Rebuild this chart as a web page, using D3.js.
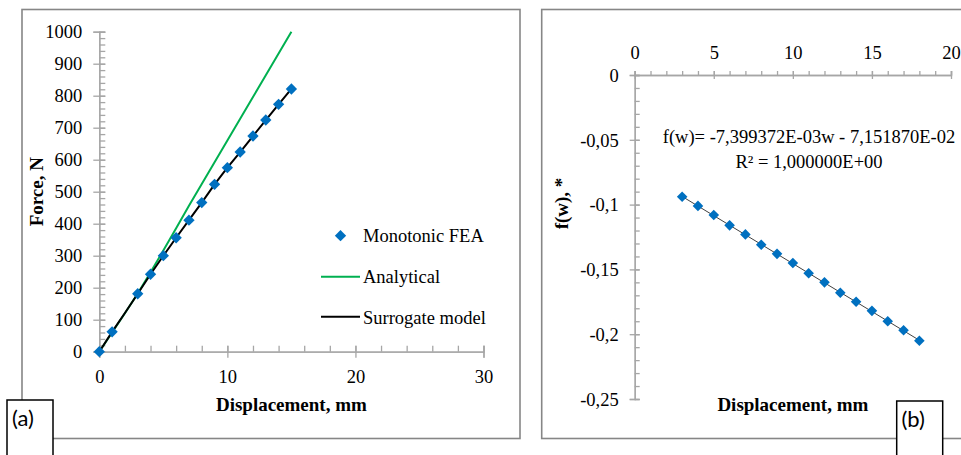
<!DOCTYPE html>
<html>
<head>
<meta charset="utf-8">
<script src="https://cdn.jsdelivr.net/npm/d3@7"></script>
<style>
  body { margin: 0; background: #fff; }
  svg { display: block; }
  .tick text { font-family: "Liberation Serif", "Times New Roman", serif; font-size: 18.5px; fill: #000; }
  .title { font-family: "Liberation Serif", "Times New Roman", serif; font-size: 19px; font-weight: bold; }
  .txt { font-family: "Liberation Serif", "Times New Roman", serif; font-size: 18.5px; }
  .tag { font-family: Lato, "Open Sans", sans-serif; font-size: 22px; }
</style>
</head>
<body>
<script>
// panel (a): force vs displacement
var feaX = [0, 1, 3, 4, 5, 6, 7, 8, 9, 10, 11, 12, 13, 14, 15];
var feaF = [0, 62, 181, 242, 300, 356, 411, 466, 523, 575, 624, 674, 724, 773, 821];
var anaX = [0, 1, 2, 3, 4, 5, 6, 7, 8, 9, 10, 11, 12, 13, 14, 15];
var anaF = [0, 60, 120, 182, 248, 316, 386, 456, 524, 592, 660, 728, 796, 864, 932, 1000];
var surX = [0, 1, 2, 3, 4, 5, 6, 7, 8, 9, 10, 11, 12, 13, 14, 15];
var surF = [0, 62, 121, 181, 242, 300, 356, 411, 466, 523, 575, 624, 674, 724, 773, 821];
var aXTicks = [0, 10, 20, 30];
var aYTicks = [0, 100, 200, 300, 400, 500, 600, 700, 800, 900, 1000];
var legendNames = ["Monotonic FEA", "Analytical", "Surrogate model"];

// panel (b): f(w) vs displacement
var bW = [3, 4, 5, 6, 7, 8, 9, 10, 11, 12, 13, 14, 15, 16, 17, 18];
var bF = [-0.094, -0.101, -0.108, -0.116, -0.123, -0.131, -0.138, -0.145,
          -0.153, -0.160, -0.168, -0.175, -0.182, -0.190, -0.197, -0.205];
var fitSlope = -7.399372e-3, fitIntercept = -7.151870e-2;
var bXTicks = [0, 5, 10, 15, 20];
var bYTicks = [0, -0.05, -0.1, -0.15, -0.2, -0.25];
var fitText = ["f(w)= -7,399372E-03w - 7,151870E-02", "R\u00b2 = 1,000000E+00"];

var blue = "#0070c0", green = "#00b050", axisGrey = "#a6a6a6", frameGrey = "#868686";

var svg = d3.select("body").append("svg")
  .attr("width", 961)
  .attr("height", 455);

// frames
svg.append("rect").attr("x", 22).attr("y", 9.5).attr("width", 498).attr("height", 429)
  .attr("fill", "#fff").attr("stroke", frameGrey).attr("stroke-width", 1.6);
svg.append("rect").attr("x", 541.7).attr("y", 9.5).attr("width", 430).attr("height", 429)
  .attr("fill", "#fff").attr("stroke", frameGrey).attr("stroke-width", 1.6);

function styleAxis(g, cross, minor) {
  g.select(".domain").attr("stroke", axisGrey).attr("stroke-width", 1.3);
  g.selectAll(".tick line").attr("stroke", axisGrey).attr("stroke-width", 1.3);
  if (minor) g.selectAll(".tick text").remove();
}

// ---------- panel (a) ----------
var ax = d3.scaleLinear().domain([0, 30]).range([99.3, 483.5]);
var ay = d3.scaleLinear().domain([0, 1000]).range([351.7, 31.7]);

var aMinorY = svg.append("g")
  .attr("transform", "translate(" + ax(0) + ",0)")
  .call(d3.axisRight(ay).tickValues(d3.range(0, 1001, 20)).tickSize(6).tickFormat(""));
styleAxis(aMinorY, false, true);
var aMinorX = svg.append("g")
  .attr("transform", "translate(0," + ay(0) + ")")
  .call(d3.axisTop(ax).tickValues(d3.range(0, 31, 2)).tickSize(6).tickFormat(""));
styleAxis(aMinorX, false, true);

var aYAxis = svg.append("g")
  .attr("transform", "translate(" + ax(0) + ",0)")
  .call(d3.axisLeft(ay).tickValues(aYTicks).tickSize(6).tickPadding(11).tickFormat(d3.format("d")));
styleAxis(aYAxis);
aYAxis.selectAll(".tick line").attr("x1", 6);
aYAxis.selectAll(".tick text").attr("dy", "0.34em");

var aXAxis = svg.append("g")
  .attr("transform", "translate(0," + ay(0) + ")")
  .call(d3.axisBottom(ax).tickValues(aXTicks).tickSize(6).tickPadding(12).tickFormat(d3.format("d")));
styleAxis(aXAxis);
aXAxis.selectAll(".tick line").attr("y1", -6);

var aLine = d3.line().x(d => ax(d[0])).y(d => ay(d[1]));
svg.append("path").datum(d3.zip(anaX, anaF)).attr("d", aLine)
  .attr("fill", "none").attr("stroke", green).attr("stroke-width", 2);
svg.append("path").datum(d3.zip(surX, surF)).attr("d", aLine)
  .attr("fill", "none").attr("stroke", "#000").attr("stroke-width", 2);

var diamond = d3.symbol().type(d3.symbolSquare).size(64);
svg.append("g").selectAll("path").data(d3.zip(feaX, feaF)).enter().append("path")
  .attr("d", diamond)
  .attr("transform", d => "translate(" + ax(d[0]) + "," + ay(d[1]) + ") rotate(45)")
  .attr("fill", blue);

svg.append("text").attr("class", "title")
  .attr("transform", "translate(43," + ((ay(0) + ay(1000)) / 2) + ") rotate(-90)")
  .attr("text-anchor", "middle").text("Force, N");
svg.append("text").attr("class", "title")
  .attr("x", (ax(0) + ax(30)) / 2).attr("y", 411)
  .attr("text-anchor", "middle").text("Displacement, mm");

// legend
var leg = svg.append("g");
leg.append("path").attr("d", diamond)
  .attr("transform", "translate(340.5,235.7) rotate(45)").attr("fill", blue);
leg.append("line").attr("x1", 321).attr("x2", 360).attr("y1", 276.7).attr("y2", 276.7)
  .attr("stroke", green).attr("stroke-width", 2);
leg.append("line").attr("x1", 321).attr("x2", 360).attr("y1", 316.7).attr("y2", 316.7)
  .attr("stroke", "#000").attr("stroke-width", 2);
leg.selectAll("text").data(legendNames).enter().append("text")
  .attr("class", "txt")
  .attr("x", 363)
  .attr("y", (d, i) => 241.5 + i * 41)
  .text(d => d);

// ---------- panel (b) ----------
var bx = d3.scaleLinear().domain([0, 20]).range([634.7, 951]);
var by = d3.scaleLinear().domain([-0.25, 0]).range([399, 75]);

var bMinorY = svg.append("g")
  .attr("transform", "translate(" + bx(0) + ",0)")
  .call(d3.axisRight(by).tickValues(d3.range(0, 26).map(i => -i / 100)).tickSize(5).tickFormat(""));
styleAxis(bMinorY, false, true);
var bMinorX = svg.append("g")
  .attr("transform", "translate(0," + by(0) + ")")
  .call(d3.axisTop(bx).tickValues(d3.range(0, 21)).tickSize(4).tickFormat(""));
styleAxis(bMinorX, false, true);

var bYAxis = svg.append("g")
  .attr("transform", "translate(" + bx(0) + ",0)")
  .call(d3.axisLeft(by).tickValues(bYTicks).tickSize(5).tickPadding(11)
    .tickFormat(d => d === 0 ? "0" : String(d).replace(".", ",")));
styleAxis(bYAxis);
bYAxis.selectAll(".tick line").attr("x1", 5);
bYAxis.selectAll(".tick text").attr("dy", "0.34em");

var bXAxis = svg.append("g")
  .attr("transform", "translate(0," + by(0) + ")")
  .call(d3.axisTop(bx).tickValues(bXTicks).tickSize(4).tickPadding(12).tickFormat(d3.format("d")));
styleAxis(bXAxis);
bXAxis.selectAll(".tick line").attr("y1", 4);

var fitEnds = d3.extent(bW);
svg.append("line")
  .attr("x1", bx(fitEnds[0])).attr("y1", by(fitSlope * fitEnds[0] + fitIntercept))
  .attr("x2", bx(fitEnds[1])).attr("y2", by(fitSlope * fitEnds[1] + fitIntercept))
  .attr("stroke", "#404040").attr("stroke-width", 1);

var diamondB = d3.symbol().type(d3.symbolSquare).size(56);
svg.append("g").selectAll("path").data(d3.zip(bW, bF)).enter().append("path")
  .attr("d", diamondB)
  .attr("transform", d => "translate(" + bx(d[0]) + "," + by(d[1]) + ") rotate(45)")
  .attr("fill", blue);

svg.append("text").attr("class", "txt")
  .attr("text-anchor", "middle")
  .selectAll("tspan").data(fitText).enter().append("tspan")
  .attr("x", 809).attr("y", (d, i) => 143 + i * 25)
  .text(d => d);

svg.append("text").attr("class", "title")
  .attr("transform", "translate(568,203.5) rotate(-90)")
  .attr("text-anchor", "middle").text("f(w), *");
svg.append("text").attr("class", "title")
  .attr("x", (bx(0) + bx(20)) / 2).attr("y", 411)
  .attr("text-anchor", "middle").text("Displacement, mm");

// panel tags
svg.append("rect").attr("x", 7).attr("y", 400).attr("width", 46).attr("height", 70)
  .attr("fill", "#fff").attr("stroke", "#000").attr("stroke-width", 1.5);
svg.append("text").attr("class", "tag").attr("x", 12).attr("y", 426).text("(a)");
svg.append("rect").attr("x", 896.7).attr("y", 401).attr("width", 46).attr("height", 70)
  .attr("fill", "#fff").attr("stroke", "#000").attr("stroke-width", 1.5);
svg.append("text").attr("class", "tag").attr("x", 901.5).attr("y", 427).text("(b)");
</script>
</body>
</html>
